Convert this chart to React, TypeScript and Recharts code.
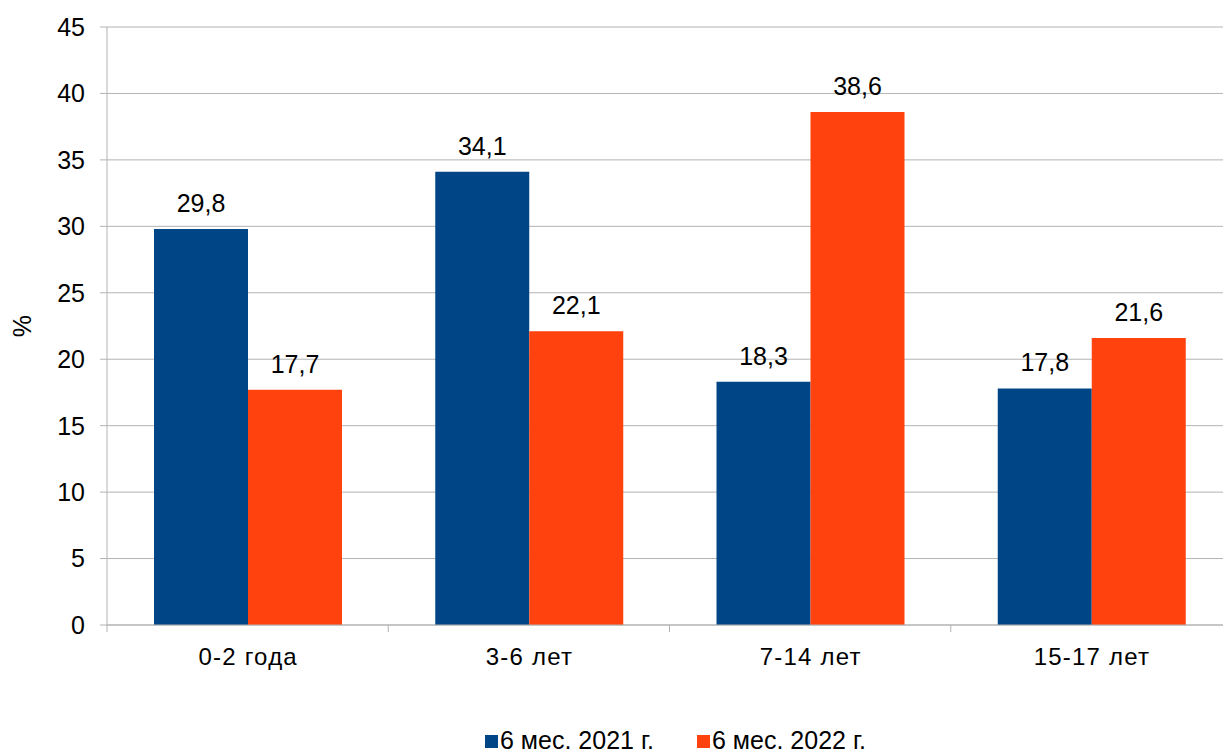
import React from 'react';
import { BarChart, Bar, XAxis, YAxis, CartesianGrid, LabelList, Legend } from 'recharts';

const categories = ['0-2 года', '3-6 лет', '7-14 лет', '15-17 лет'];
const series2021 = [29.8, 34.1, 18.3, 17.8];
const series2022 = [17.7, 22.1, 38.6, 21.6];
const yTicks = [0, 5, 10, 15, 20, 25, 30, 35, 40, 45];
const seriesNames = ['6 мес. 2021 г.', '6 мес. 2022 г.'];
const colors = ['#004586', '#ff420e'];

const data = categories.map((c, i) => ({ name: c, a: series2021[i], b: series2022[i] }));

const W = 1240;
const H = 753;
const Y_AXIS_W = 107;
const MARGIN = { top: 27, right: 8, bottom: 0, left: 0 };
const PLOT_W = W - MARGIN.left - MARGIN.right - Y_AXIS_W;
const BAND = PLOT_W / categories.length;
const TICK_SIZE = 7;
const TICK_MARGIN = 16;
const GRID = '#b3b3b3';
const FONT = '"Liberation Sans", Arial, sans-serif';

const fmt = (v: any) => String(v).replace('.', ',');

const XTick = (props: any) => {
  const { x, y, payload, index } = props;
  const lineTop = y - TICK_MARGIN - TICK_SIZE;
  const lineBottom = y - TICK_MARGIN;
  const bx = x - BAND / 2;
  return (
    <g>
      <line x1={bx} x2={bx} y1={lineTop} y2={lineBottom} stroke={GRID} />
      {index === categories.length - 1 && (
        <line x1={x + BAND / 2} x2={x + BAND / 2} y1={lineTop} y2={lineBottom} stroke={GRID} />
      )}
      <text
        x={x + 0.6}
        y={y}
        dy="0.71em"
        textAnchor="middle"
        fontSize={24}
        letterSpacing={1.2}
        fill="#000"
        fontFamily={FONT}
      >
        {payload.value}
      </text>
    </g>
  );
};

const YLabel = (props: any) => {
  const vb = props.viewBox || {};
  const x = (vb.x || 0) + 22;
  const y = (vb.y || 0) + (vb.height || 0) / 2;
  return (
    <text
      x={x}
      y={y}
      transform={`rotate(-90 ${x} ${y})`}
      textAnchor="middle"
      dominantBaseline="central"
      fontSize={25}
      fill="#000"
      fontFamily={FONT}
    >
      %
    </text>
  );
};

const LegendContent = () => {
  const items = [
    { sq: 485, tx: 500 },
    { sq: 697, tx: 712 },
  ];
  return (
    <div style={{ position: 'relative', height: 40, fontFamily: FONT, fontSize: 25, color: '#000' }}>
      {items.map((it, i) => (
        <React.Fragment key={i}>
          <div
            style={{
              position: 'absolute',
              left: it.sq,
              top: 22,
              width: 13,
              height: 13,
              background: colors[i],
            }}
          />
          <div
            style={{
              position: 'absolute',
              left: it.tx,
              top: 15,
              lineHeight: '24px',
              whiteSpace: 'nowrap',
            }}
          >
            {seriesNames[i]}
          </div>
        </React.Fragment>
      ))}
    </div>
  );
};

export default function App() {
  return (
    <div style={{ position: 'absolute', left: 0, top: 0, width: 1223, height: 753, overflow: 'hidden', background: '#fff' }}>
      <BarChart width={W} height={H} data={data} margin={MARGIN} barGap={0} style={{ fontFamily: FONT }}>
        <CartesianGrid vertical={false} stroke={GRID} />
        <XAxis
          dataKey="name"
          height={88}
          tickLine={false}
          tickSize={TICK_SIZE}
          tickMargin={TICK_MARGIN}
          axisLine={{ stroke: GRID }}
          tick={<XTick />}
          interval={0}
        />
        <YAxis
          width={Y_AXIS_W}
          domain={[0, 45]}
          ticks={yTicks}
          interval={0}
          tickSize={TICK_SIZE}
          tickMargin={15}
          axisLine={{ stroke: GRID }}
          tickLine={{ stroke: GRID }}
          tick={{ fontSize: 25, fill: '#000', fontFamily: FONT }}
          label={<YLabel />}
        />
        <Legend
          verticalAlign="bottom"
          content={<LegendContent />}
          wrapperStyle={{ left: 0, bottom: 0, width: W, height: 40 }}
        />
        <Bar dataKey="a" name={seriesNames[0]} fill={colors[0]} barSize={94} isAnimationActive={false}>
          <LabelList dataKey="a" position="top" offset={17} formatter={fmt} fontSize={25} fill="#000" fontFamily={FONT} />
        </Bar>
        <Bar dataKey="b" name={seriesNames[1]} fill={colors[1]} barSize={94} isAnimationActive={false}>
          <LabelList dataKey="b" position="top" offset={17} formatter={fmt} fontSize={25} fill="#000" fontFamily={FONT} />
        </Bar>
      </BarChart>
    </div>
  );
}
